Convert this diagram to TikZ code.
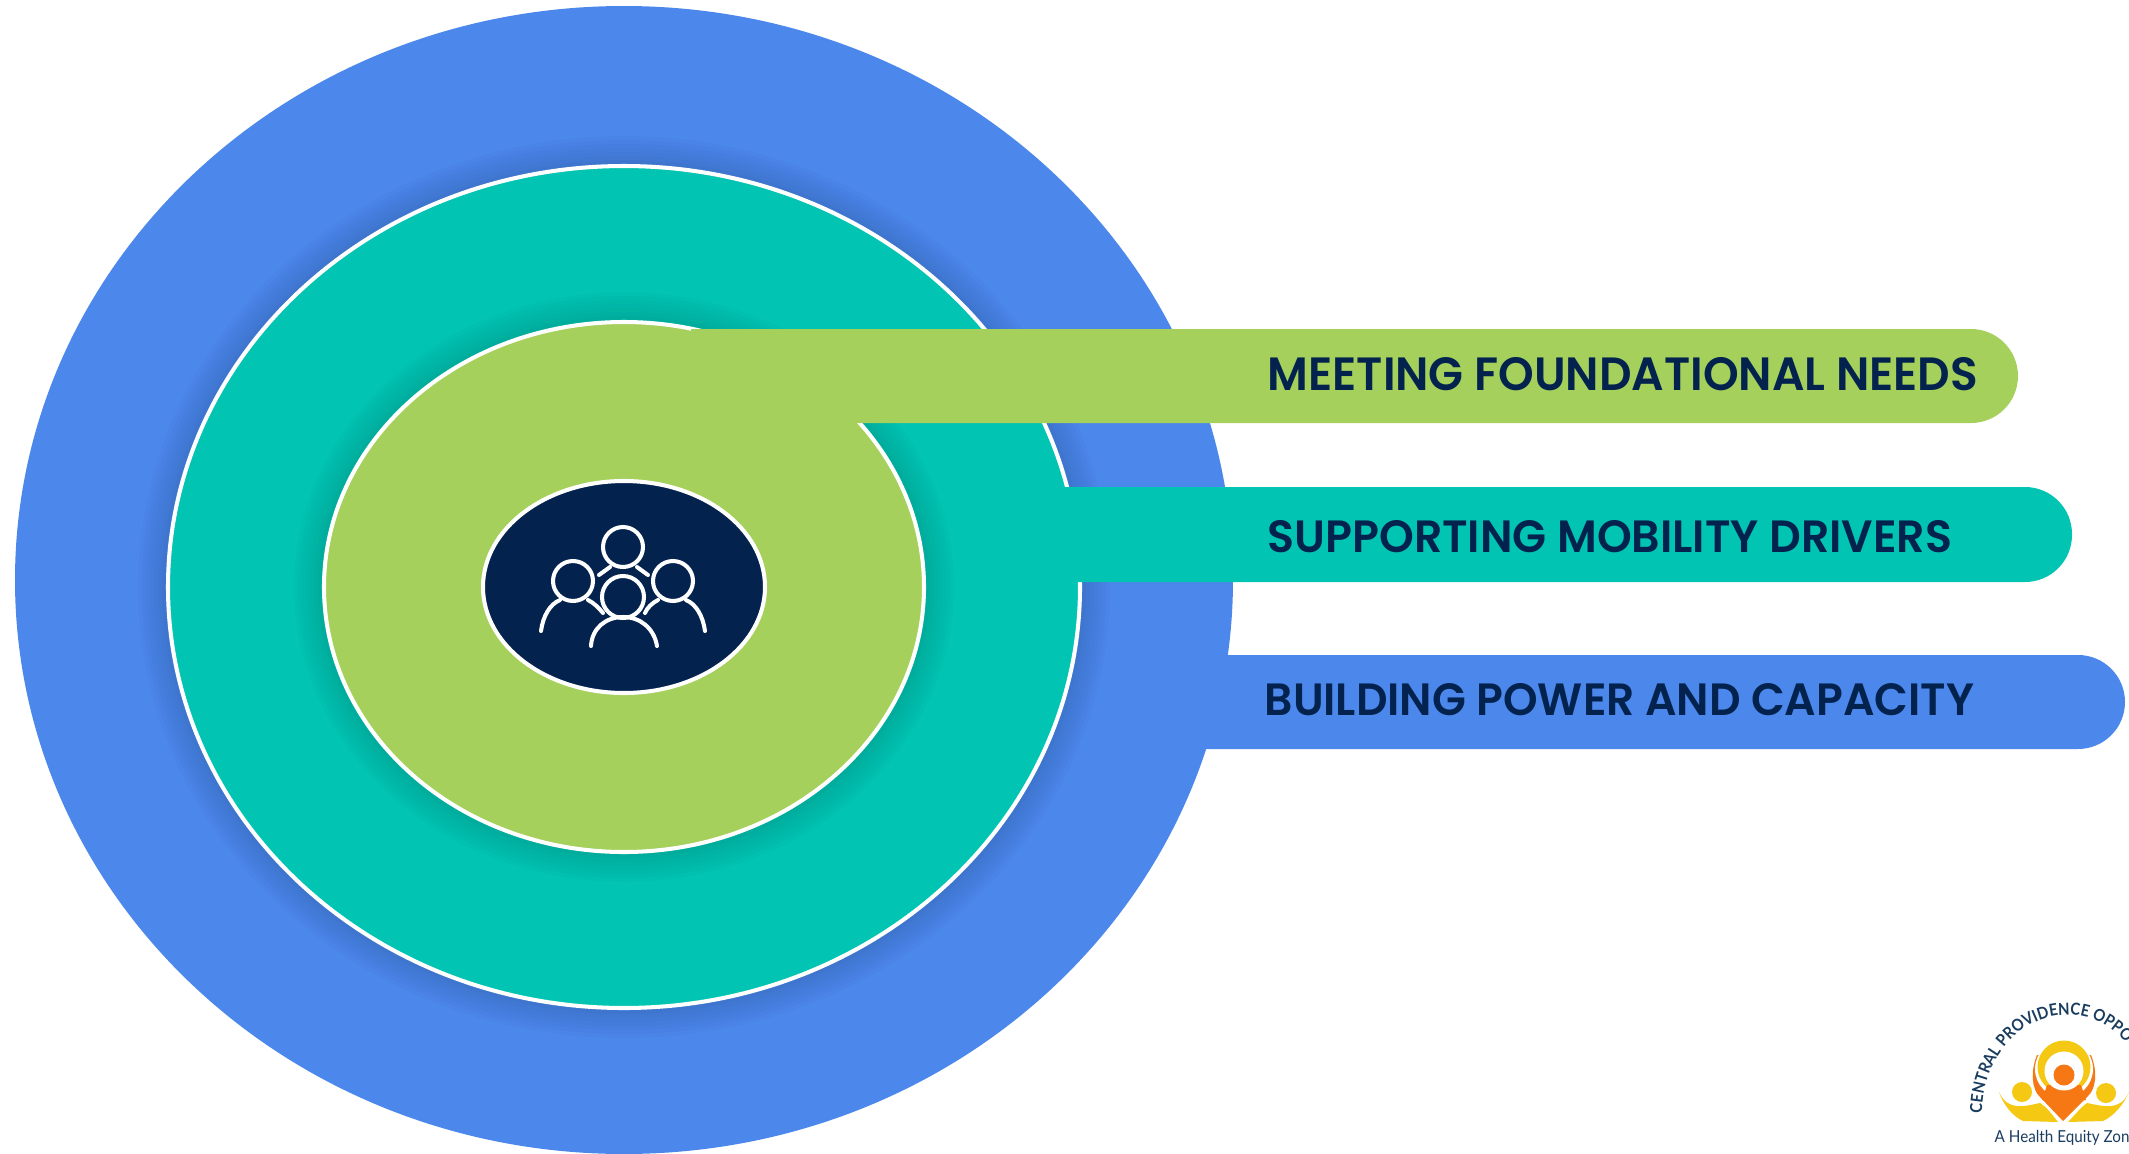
\documentclass[tikz,border=0pt]{standalone}
\usepackage{fontspec}
\usepackage{graphicx}
\usetikzlibrary{decorations.text}
\newfontfamily\barfont{Poppins SemiBold}
\newfontfamily\logofont[WordSpace=1,FakeStretch=0.9]{Lato}
\newfontfamily\zonefont[FakeStretch=0.92]{Lato}
\definecolor{ringblue}{RGB}{76,135,235}
\definecolor{ringteal}{RGB}{2,196,178}
\definecolor{ringgreen}{RGB}{165,208,92}
\definecolor{corenavy}{RGB}{3,35,78}
\definecolor{logoyellow}{RGB}{245,200,20}
\definecolor{logoorange}{RGB}{245,120,20}
\definecolor{logotext}{RGB}{25,60,95}
\newcommand{\shadowring}[3]{%
    \foreach \d in {30,26,...,2}
        \fill[black,opacity=0.014] (#1) ellipse [x radius=#2+\d, y radius=#3+\d];
}
\begin{document}
\begin{tikzpicture}[x=0.01cm,y=-0.01cm,
    ringline/.style={draw=white,line width=1.15pt},
    barlabel/.style={anchor=west,inner sep=0pt,text=corenavy},
    person/.style={draw=white,line width=1.15pt,line cap=round}]

        \useasboundingbox (0,0) rectangle (2129,1154);
        \clip (0,0) rectangle (2129,1154);

        \coordinate (mid) at (624,587);

        % rings
        \fill[ringblue] (624,580) ellipse [x radius=609, y radius=574];
        \shadowring{mid}{456}{421}
        \filldraw[fill=ringteal,ringline] (mid) ellipse [x radius=456, y radius=421];
        \shadowring{mid}{300}{265}
        \filldraw[fill=ringgreen,ringline] (mid) ellipse [x radius=300, y radius=265];
        \filldraw[fill=corenavy,ringline] (mid) ellipse [x radius=141, y radius=106];

        % bars
        \fill[ringblue,rounded corners=0.47cm] (1150,655) [sharp corners] -- (1150,749) [rounded corners=0.47cm] -- (2125,749) -- (2125,655) [sharp corners] -- cycle;
        \fill[ringteal,rounded corners=0.47cm] (1000,487) [sharp corners] -- (1000,582) [rounded corners=0.47cm] -- (2072,582) -- (2072,487) [sharp corners] -- cycle;
        \fill[ringgreen,rounded corners=0.47cm] (691,329) [sharp corners] -- (691,423) [rounded corners=0.47cm] -- (2018,423) -- (2018,329) [sharp corners] -- cycle;

        \node[barlabel] (needs) at (1267,374) {\resizebox{7.10cm}{0.33cm}{\barfont MEETING FOUNDATIONAL NEEDS}};
        \node[barlabel] (drivers) at (1267,537) {\resizebox{6.84cm}{0.32cm}{\barfont SUPPORTING MOBILITY DRIVERS}};
        \node[barlabel] (capacity) at (1264,700) {\resizebox{7.09cm}{0.32cm}{\barfont BUILDING POWER AND CAPACITY}};

        % people
        \draw[person] (623,547) circle (20);
        \draw[person] (573,581) circle (20);
        \draw[person] (673,581) circle (20);
        \draw[person] (623,597) circle (21);
        \draw[person] (591,646) .. controls (592,628) and (606,617) .. (623,617) .. controls (640,617) and (654,628) .. (657,646);
        \draw[person] (541,631) .. controls (543,616) and (550,604) .. (560,600);
        \draw[person] (588,600) .. controls (594,603) and (599,608) .. (603,613);
        \draw[person] (705,631) .. controls (703,616) and (696,604) .. (686,600);
        \draw[person] (658,600) .. controls (652,603) and (647,608) .. (645,613);
        \draw[person] (599,575) -- (610,567);
        \draw[person] (648,575) -- (637,567);

        % logo
        \fill[logoyellow] (2022,1092) circle (10);
        \fill[logoyellow] (2106,1093) circle (10);
        \fill[logoyellow] (1999,1092) .. controls (2008,1112) and (2025,1106) .. (2040,1103) .. controls (2048,1108) and (2053,1116) .. (2058,1122) -- (2023,1121) .. controls (2012,1116) and (2003,1104) .. cycle;
        \fill[logoyellow] (2129,1092) .. controls (2120,1112) and (2103,1106) .. (2087,1103) .. controls (2080,1108) and (2074,1116) .. (2068,1122) -- (2103,1121) .. controls (2114,1116) and (2124,1104) .. cycle;
        \fill[logoorange] (2037,1055) .. controls (2030,1072) and (2032,1090) .. (2040,1097) -- (2063,1121) -- (2087,1097) .. controls (2096,1090) and (2098,1072) .. (2091,1055) -- cycle;
        \fill[white] (2064,1069) circle (29);
        \fill[logoyellow] (2064,1067) circle (26.5);
        \fill[logoorange] (2047,1085) -- (2081,1085) -- (2086,1100) -- (2042,1100) -- cycle;
        \fill[white] (2064,1071) circle (19.5);
        \fill[logoorange] (2064,1075) circle (10.5);

        \path[decorate,decoration={text along path,text align=left,
            text={|\logofont\bfseries\fontsize{4.7pt}{5pt}\selectfont\color{logotext}|CENTRAL PROVIDENCE OPPO}}]
            (1982,1113) arc [start angle=180, end angle=345, x radius=85, y radius=98];
        \node[anchor=base west,inner sep=0pt,text=logotext] (zone) at (1994,1142) {\zonefont\fontsize{4.7pt}{6pt}\selectfont A Health Equity Zone};
\end{tikzpicture}
\end{document}
